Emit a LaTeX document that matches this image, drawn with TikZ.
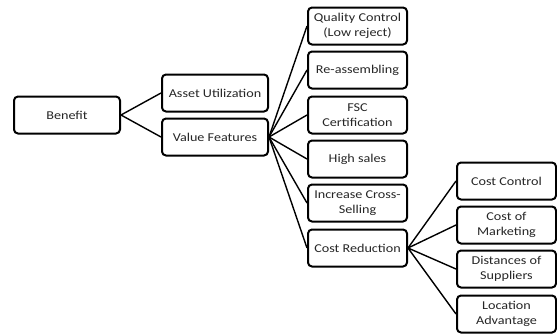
\documentclass[tikz,border=0pt]{standalone}
\usepackage{fontspec}
\setmainfont{Carlito}[FakeStretch=1.18]

\begin{document}
\begin{tikzpicture}[x=1pt, y=-1pt,
        box/.style={draw, line width=2pt, rounded corners=4pt, align=center,
            minimum width=99pt, minimum height=37pt, inner sep=1pt,
            font=\fontsize{12}{15.5}\selectfont, text=black!85},
        wide/.style={minimum width=106pt},
        link/.style={line width=1.4pt}]
            \useasboundingbox (0,0) rectangle (557,333);

            \node[box, wide] (benefit) at (67, 115) {Benefit};
            \node[box, wide] (asset) at (215, 93) {Asset Utilization};
            \node[box, wide] (value) at (215, 137) {Value Features};

            \node[box] (quality) at (357.5, 26) {Quality Control\\(Low reject)};
            \node[box] (reassembling) at (357.5, 70) {Re-assembling};
            \node[box] (fsc) at (357.5, 115) {FSC\\Certification};
            \node[box] (sales) at (357.5, 159) {High sales};
            \node[box] (cross) at (357.5, 203) {Increase Cross-\\Selling};
            \node[box] (reduction) at (357.5, 248) {Cost Reduction};

            \node[box] (control) at (506.5, 181) {Cost Control};
            \node[box] (marketing) at (506.5, 225) {Cost of\\Marketing};
            \node[box] (suppliers) at (506.5, 269) {Distances of\\Suppliers};
            \node[box] (location) at (506.5, 314) {Location\\Advantage};

            \draw[link] (benefit.east) -- (asset.west);
            \draw[link] (benefit.east) -- (value.west);

            \foreach \n in {quality, reassembling, fsc, sales, cross, reduction}
                \draw[link] (value.east) -- (\n.west);

            \foreach \n in {control, marketing, suppliers, location}
                \draw[link] (reduction.east) -- (\n.west);
        \end{tikzpicture}
\end{document}
